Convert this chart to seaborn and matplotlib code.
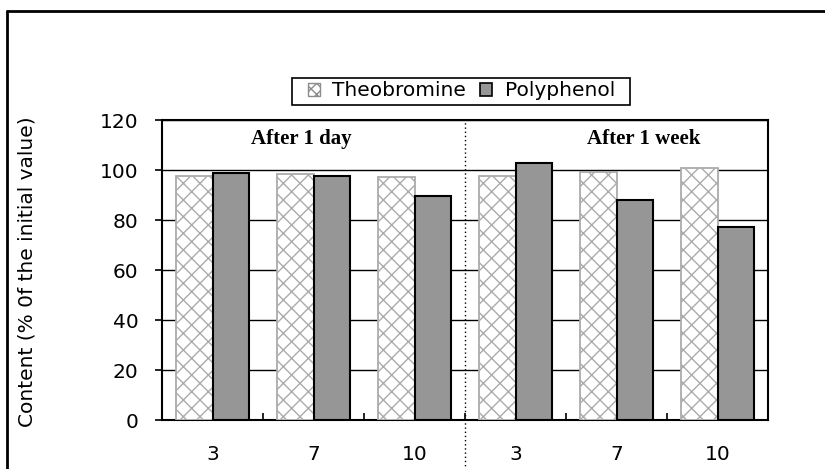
import matplotlib
matplotlib.use("Agg")
import matplotlib.pyplot as plt
import seaborn as sns
import pandas as pd
from matplotlib.patches import Patch, Rectangle
from matplotlib.lines import Line2D
import matplotlib.transforms as mtransforms

# ---- data ----
periods = ["After 1 day", "After 1 week"]
days = ["3", "7", "10"]
series = ["Theobromine", "Polyphenol"]
theobromine = [97.5, 98.2, 97.1, 97.5, 99.1, 100.9]
polyphenol = [98.9, 97.5, 89.5, 102.9, 88.1, 77.0]
tick_labels = days + days

cats = [f"{p}|{d}" for p in periods for d in days]
df = pd.DataFrame({
    "cat": cats * 2,
    "series": [series[0]] * 6 + [series[1]] * 6,
    "value": theobromine + polyphenol,
})

sns.set_theme(style="white")
plt.rcParams["font.family"] = ["DejaVu Sans"]
plt.rcParams["text.color"] = "black"
plt.rcParams["hatch.linewidth"] = 1.0
FS = 14.5

fig = plt.figure(figsize=(8.25, 4.69), dpi=100)
ax = fig.add_axes([162/825, 1-420/469, 606/825, 300/469])

sns.barplot(data=df, x="cat", y="value", hue="series", order=cats,
            hue_order=series, palette=["white", "#969696"], width=0.73,
            gap=0, saturation=1, ax=ax, legend=False, zorder=3)

for bar in ax.containers[0]:
    bar.set_facecolor("white")
    bar.set_edgecolor("#ababab")
    bar.set_hatch("xx")
    bar.set_linewidth(1.3)
for bar in ax.containers[1]:
    bar.set_facecolor("#969696")
    bar.set_edgecolor("black")
    bar.set_linewidth(1.5)

ax.set_ylim(0, 120)
ax.set_xlim(-0.5, 5.5)
ax.set_yticks([0, 20, 40, 60, 80, 100, 120])
ax.yaxis.grid(True, color="black", linewidth=1.0, zorder=0)
ax.set_axisbelow(True)
for s in ax.spines.values():
    s.set_visible(True)
    s.set_color("black")
    s.set_linewidth(1.5)

ax.set_xticks(range(6))
ax.set_xticklabels(tick_labels)
ax.set_xticks([0.5, 1.5, 2.5, 3.5, 4.5], minor=True)
ax.tick_params(axis="x", which="major", length=0, pad=18, labelsize=FS, colors="black")
ax.tick_params(axis="x", which="minor", direction="in", length=5, width=1.2,
               bottom=True, color="black")
ax.tick_params(axis="y", which="major", direction="out", length=5, width=1.2,
               left=True, pad=12, labelsize=FS, colors="black")
ax.set_xlabel("")
ax.set_ylabel("Content (% 0f the initial value)", fontsize=FS, color="black")
ax.yaxis.set_label_coords(-0.207, 0.493)

# period divider (dotted)
trans = mtransforms.blended_transform_factory(ax.transData, ax.transAxes)
ax.plot([2.5, 2.5], [-0.2, 1.0], transform=trans, color="black",
        linestyle=(0, (1, 2)), linewidth=1.0, clip_on=False, zorder=4)

# period labels
ax.text(0.88, 112.4, periods[0], ha="center", va="center", fontsize=15,
        fontweight="bold", family="Liberation Serif", color="black")
ax.text(4.27, 112.4, periods[1], ha="center", va="center", fontsize=15,
        fontweight="bold", family="Liberation Serif", color="black")

# legend
handles = [
    Patch(facecolor="white", edgecolor="#8c8c8c", hatch="xxx", linewidth=1.0, label=series[0]),
    Patch(facecolor="#969696", edgecolor="black", linewidth=1.2, label=series[1]),
]
leg = fig.legend(handles=handles, loc="center", ncol=2,
                 bbox_to_anchor=(461.5/825, 1-91/469), fontsize=FS,
                 frameon=False, handlelength=0.6, handleheight=0.6,
                 handletextpad=0.6, columnspacing=0.7, borderpad=0.0,
                 borderaxespad=0, labelcolor="black")
fig.add_artist(Rectangle((292/825, 1-105/469), (630-292)/825, 27/469,
                         transform=fig.transFigure, facecolor="none",
                         edgecolor="black", linewidth=1.2))

# outer border (left and top edges)
fig.add_artist(Line2D([7/825, 7/825], [0, 1-11/469], transform=fig.transFigure,
                      color="black", linewidth=2))
fig.add_artist(Line2D([7/825, 1], [1-11/469, 1-11/469], transform=fig.transFigure,
                      color="black", linewidth=2))

fig.savefig("out.png", dpi=100)
